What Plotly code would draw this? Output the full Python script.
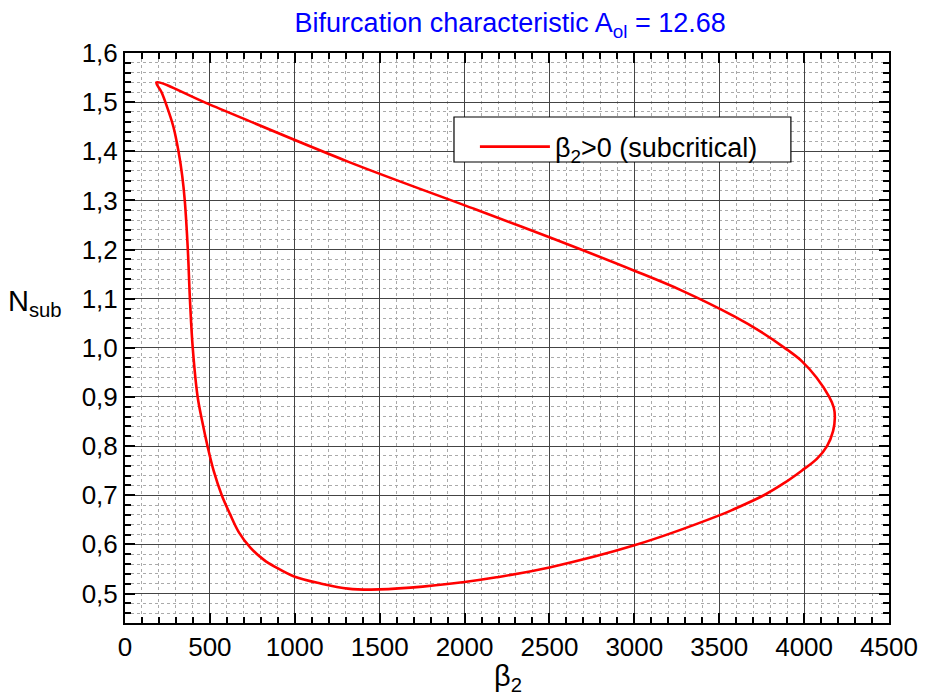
import plotly.graph_objects as go

# Curve points (beta_2, N_sub), traced around the loop
beta2 = [185, 500, 1313, 2071, 2500, 3000, 3277, 3589, 3744, 3885, 3986, 4074, 4148, 4175, 4181,
         4171, 4135, 4075, 3986, 3879, 3763, 3589, 3500, 3000, 2500, 2188, 2000, 1682, 1449, 1313,
         1157, 1000, 885, 820, 737, 670, 618, 570, 522, 486, 455, 428, 399, 383, 370, 352, 337, 315,
         285, 243, 214, 185]
n_sub = [1.540, 1.495, 1.379, 1.281, 1.225, 1.157, 1.117, 1.064, 1.033, 1.000, 0.973, 0.939, 0.900, 0.878, 0.858,
         0.831, 0.800, 0.774, 0.750, 0.724, 0.700, 0.672, 0.659, 0.598, 0.553, 0.533, 0.5235, 0.512, 0.508, 0.510,
         0.520, 0.534, 0.554, 0.568, 0.594, 0.625, 0.662, 0.700, 0.750, 0.800, 0.850, 0.900, 1.000, 1.095, 1.200,
         1.300, 1.350, 1.400, 1.450, 1.495, 1.521, 1.540]

x_ticks = [0, 500, 1000, 1500, 2000, 2500, 3000, 3500, 4000, 4500]
y_ticks = [0.5, 0.6, 0.7, 0.8, 0.9, 1.0, 1.1, 1.2, 1.3, 1.4, 1.5, 1.6]

FONT = "Liberation Sans, Arial, sans-serif"

fig = go.Figure()
fig.add_trace(go.Scatter(
    x=beta2, y=n_sub, mode="lines",
    line=dict(color="#ff0000", width=2.6, shape="spline", smoothing=1.0),
    name="β<sub>2</sub>>0 (subcritical)",
))

axis_common = dict(
    showline=True, linecolor="black", linewidth=2, mirror="allticks",
    ticks="inside", ticklen=10, tickwidth=2, tickcolor="black",
    showgrid=True, gridcolor="#444444", gridwidth=1,
    zeroline=False,
    tickfont=dict(family=FONT, size=26, color="black"),
)

fig.update_layout(
    width=930, height=700,
    margin=dict(l=125, r=34, t=53, b=77),
    paper_bgcolor="white", plot_bgcolor="white",
    separators=",.",
    font=dict(family=FONT, color="black"),
    title=dict(text="Bifurcation characteristic A<sub>ol</sub> = 12.68",
               font=dict(family=FONT, size=27, color="#0000ff"),
               x=0.5486, xanchor="center", y=0.968, yanchor="middle"),
    xaxis=dict(range=[0, 4500], tickvals=x_ticks, tickformat="d",
               minor=dict(dtick=100, ticks="inside", ticklen=6, tickwidth=1.5, tickcolor="black",
                          showgrid=True, gridcolor="#aaaaaa", griddash="dot", gridwidth=1),
               **axis_common),
    yaxis=dict(range=[0.44, 1.6], tickvals=y_ticks, tickformat=".1f",
               minor=dict(dtick=0.02, tick0=0.5, ticks="inside", ticklen=6, tickwidth=1.5, tickcolor="black",
                          showgrid=True, gridcolor="#aaaaaa", griddash="dot", gridwidth=1),
               **axis_common),
    showlegend=True,
    legend=dict(x=0.458, y=0.878, xanchor="left", yanchor="top",
                bgcolor="rgba(0,0,0,0)", borderwidth=0,
                font=dict(family=FONT, size=27, color="black"),
                itemwidth=70),
    shapes=[dict(type="rect", xref="paper", yref="paper",
                 x0=(457 - 125) / 771, x1=(797 - 125) / 771,
                 y0=(623 - 162) / 570, y1=(623 - 117) / 570,
                 line=dict(color="black", width=1.2), fillcolor="white", layer="above")],
    annotations=[
        dict(text="N<sub>sub</sub>", xref="paper", yref="paper",
             x=(34 - 125) / 771, y=(623 - 303) / 570, xanchor="center", yanchor="middle",
             showarrow=False, font=dict(family=FONT, size=29, color="black")),
        dict(text="β<sub>2</sub>", xref="paper", yref="paper",
             x=(512 - 125) / 771, y=(623 - 678) / 570, xanchor="center", yanchor="middle",
             showarrow=False, font=dict(family=FONT, size=29, color="black")),
    ],
)

fig.write_html("out.html")
